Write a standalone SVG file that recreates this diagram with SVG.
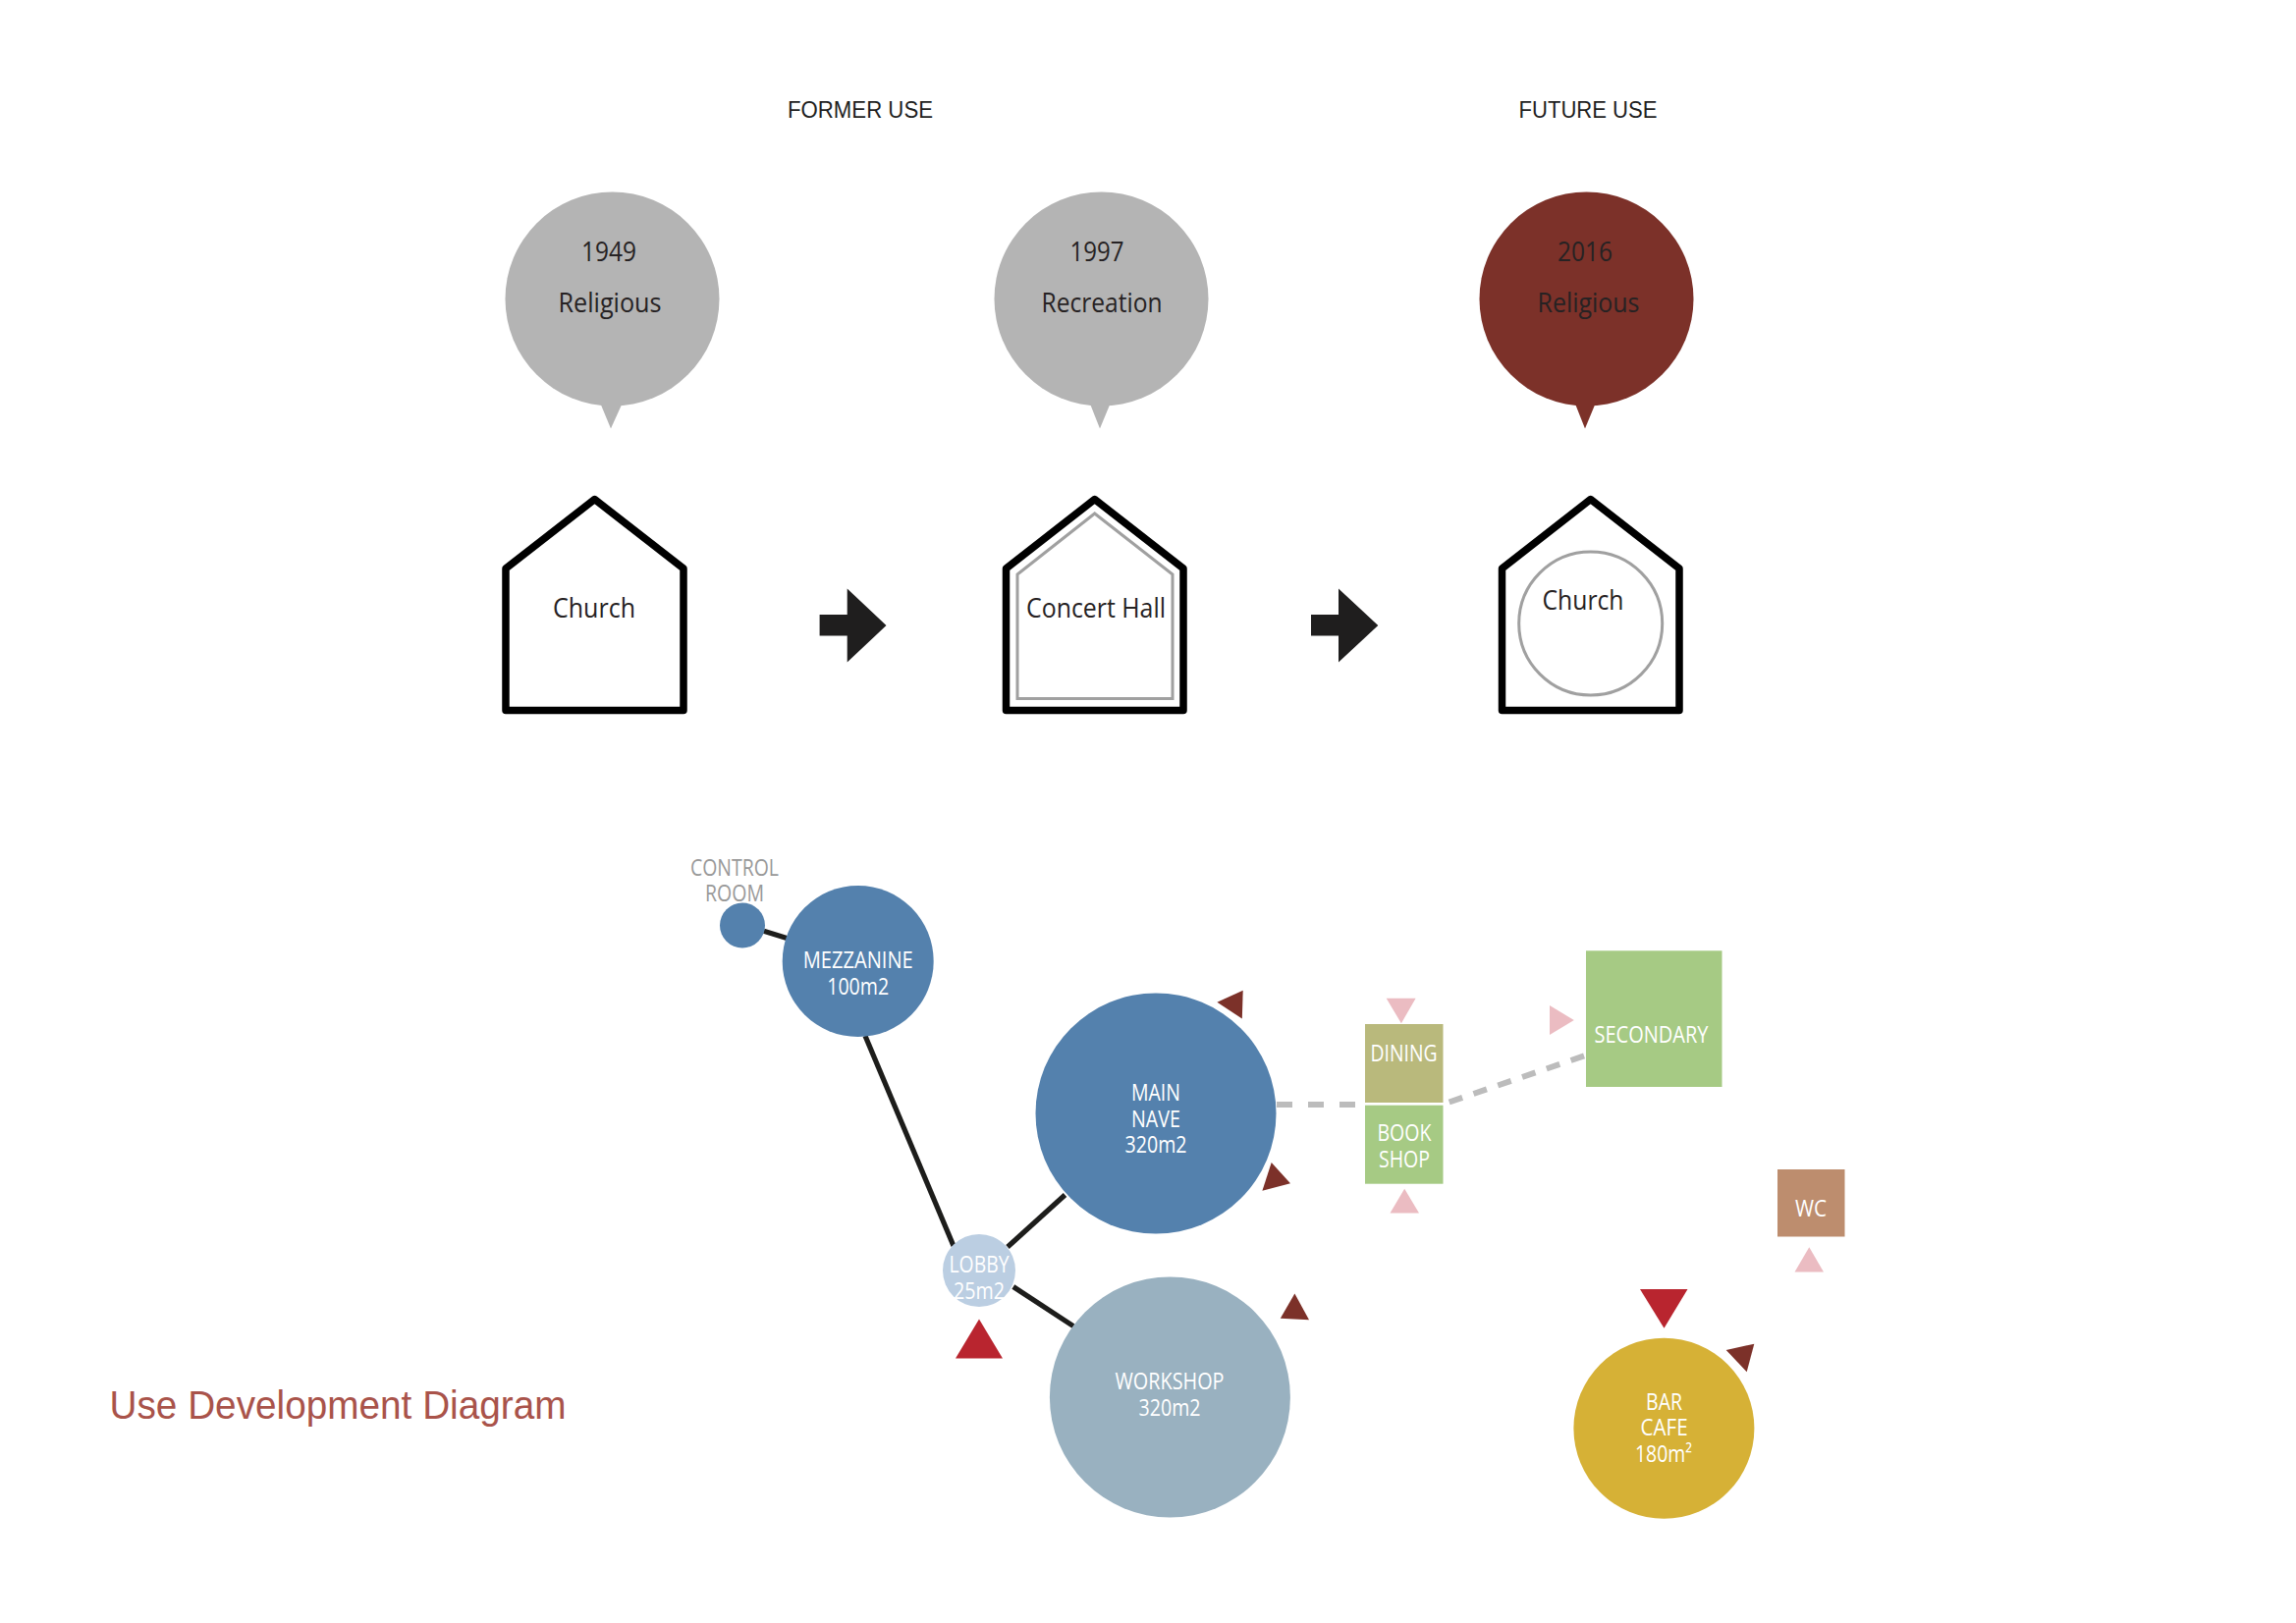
<svg xmlns="http://www.w3.org/2000/svg" width="2338" height="1653" viewBox="0 0 2338 1653">
<defs><style>
.h{font-family:"Liberation Sans",Arial,sans-serif;font-size:23px;fill:#1f1f1f;text-anchor:middle}
.t{font-family:"Open Sans","Noto Sans",sans-serif;font-size:28px;fill:#262223;text-anchor:middle}
.w{font-family:"Open Sans","Noto Sans",sans-serif;font-size:23px;fill:#fff;text-anchor:middle}
.g{fill:#999}
.house{fill:#fff;stroke:#000;stroke-width:7.5;stroke-linejoin:round}
.inner{fill:none;stroke:#a0a0a0;stroke-width:3}
.line{stroke:#1d1d1b;stroke-width:5.2;fill:none}
.dash{stroke:#bcbcbc;stroke-width:6;fill:none}
.blue{fill:#5481ad}.bub{fill:#b4b4b4}.brown{fill:#7c3129}.pink{fill:#ebbcc2}.red{fill:#b9252f}.green{fill:#a6ca84}.arrow{fill:#1f1e1e}
</style></defs>
<rect width="2338" height="1653" fill="#fff"/>
<text class="h" x="876" y="120" textLength="148" lengthAdjust="spacingAndGlyphs">FORMER USE</text>
<text class="h" x="1617" y="120" textLength="141" lengthAdjust="spacingAndGlyphs">FUTURE USE</text>

<g id="bubble-1949"><circle class="bub" cx="623.500" cy="304.500" r="109"/><path class="bub" d="M611 410L622 436.500L634 410Z"/>
<text class="t" x="620" y="265.500" textLength="56" lengthAdjust="spacingAndGlyphs">1949</text><text class="t" x="621" y="317.500" textLength="105" lengthAdjust="spacingAndGlyphs">Religious</text></g>
<g id="bubble-1997"><circle class="bub" cx="1121.500" cy="304.500" r="109"/><path class="bub" d="M1109.500 410L1120 436.500L1131 410Z"/>
<text class="t" x="1117" y="265.500" textLength="55" lengthAdjust="spacingAndGlyphs">1997</text><text class="t" x="1122" y="317.500" textLength="123" lengthAdjust="spacingAndGlyphs">Recreation</text></g>
<g id="bubble-2016"><circle class="brown" cx="1615.500" cy="304.500" r="109"/><path class="brown" d="M1603.500 410L1614 436.500L1625 410Z"/>
<text class="t" x="1614" y="265.500" textLength="56" lengthAdjust="spacingAndGlyphs">2016</text><text class="t" x="1617.500" y="317.500" textLength="104" lengthAdjust="spacingAndGlyphs">Religious</text></g>

<g id="house-church"><path class="house" d="M515 579L605.500 508.500L696 579V723.500H515Z"/>
<text class="t" x="605" y="628.500" textLength="84" lengthAdjust="spacingAndGlyphs">Church</text></g>
<g id="house-concert"><path class="house" d="M1024.500 579L1114.700 508.500L1205 579V723.500H1024.500Z"/><path class="inner" d="M1036 585L1114.700 523L1194 585V711.500H1036Z"/>
<text class="t" x="1116" y="628.500" textLength="142" lengthAdjust="spacingAndGlyphs">Concert Hall</text></g>
<g id="house-future"><path class="house" d="M1529.500 579L1619.700 508.500L1710 579V723.500H1529.500Z"/><circle class="inner" cx="1619.700" cy="635" r="73"/>
<text class="t" x="1612" y="621" textLength="83" lengthAdjust="spacingAndGlyphs">Church</text></g>

<path id="arrow-1" class="arrow" d="M834.600 626H862.700V599.500L902.500 637L862.700 674.500V647.500H834.600Z"/>
<path id="arrow-2" class="arrow" d="M1335 626H1363V599.500L1403.300 637L1363 674.500V647.500H1335Z"/>

<g id="connectors">
<path class="line" d="M777.800 948.300L802 955.700"/>
<path class="line" d="M881 1055L971 1269"/>
<path class="line" d="M1026 1270L1084.500 1217"/>
<path class="line" d="M1031.800 1310.500L1093 1350.600"/>
<path class="dash" d="M1300 1125H1380" stroke-dasharray="16 16"/>
<path class="dash" d="M1475.700 1122.500L1613.700 1075.200" stroke-dasharray="14.200 12"/>
</g>

<g id="control-room"><circle class="blue" cx="756" cy="942.500" r="23"/>
<text class="w g" x="748" y="891.500" textLength="90" lengthAdjust="spacingAndGlyphs">CONTROL</text><text class="w g" x="748" y="918" textLength="60" lengthAdjust="spacingAndGlyphs">ROOM</text></g>
<g id="mezzanine"><circle class="blue" cx="873.700" cy="979" r="77"/>
<text class="w" x="873.700" y="986" textLength="112" lengthAdjust="spacingAndGlyphs">MEZZANINE</text><text class="w" x="873.700" y="1013" textLength="63" lengthAdjust="spacingAndGlyphs">100m2</text></g>
<g id="main-nave"><circle class="blue" cx="1177" cy="1134" r="122.500"/>
<text class="w" x="1177" y="1120.500" textLength="50" lengthAdjust="spacingAndGlyphs">MAIN</text><text class="w" x="1177" y="1147.500" textLength="50" lengthAdjust="spacingAndGlyphs">NAVE</text><text class="w" x="1177" y="1174" textLength="63" lengthAdjust="spacingAndGlyphs">320m2</text></g>
<g id="lobby"><circle cx="997" cy="1294" r="37" fill="#bbcee2"/>
<text class="w" x="997" y="1295.500" textLength="61" lengthAdjust="spacingAndGlyphs">LOBBY</text><text class="w" x="997" y="1323" textLength="52" lengthAdjust="spacingAndGlyphs">25m2</text></g>
<g id="workshop"><circle cx="1191.400" cy="1423" r="122.500" fill="#99b1c0"/>
<text class="w" x="1191" y="1414.500" textLength="111" lengthAdjust="spacingAndGlyphs">WORKSHOP</text><text class="w" x="1191" y="1442" textLength="63" lengthAdjust="spacingAndGlyphs">320m2</text></g>
<g id="dining"><rect x="1390" y="1043" width="79.500" height="80" fill="#b9b97c"/>
<text class="w" x="1429.500" y="1081" textLength="68" lengthAdjust="spacingAndGlyphs">DINING</text></g>
<g id="book-shop"><rect class="green" x="1390" y="1125.700" width="79.500" height="80"/>
<text class="w" x="1430" y="1162" textLength="55" lengthAdjust="spacingAndGlyphs">BOOK</text><text class="w" x="1430" y="1189" textLength="52" lengthAdjust="spacingAndGlyphs">SHOP</text></g>
<g id="secondary"><rect class="green" x="1615" y="968.300" width="138.500" height="138.700"/>
<text class="w" x="1681.500" y="1062" textLength="116" lengthAdjust="spacingAndGlyphs">SECONDARY</text></g>
<g id="wc"><rect x="1810" y="1191" width="68.500" height="68.500" fill="#bd8d6e"/>
<text class="w" x="1844" y="1238.500" textLength="32" lengthAdjust="spacingAndGlyphs">WC</text></g>
<g id="bar-cafe"><circle cx="1694.400" cy="1454.800" r="92" fill="#d6b136"/>
<text class="w" x="1694.600" y="1435.500" textLength="37" lengthAdjust="spacingAndGlyphs">BAR</text><text class="w" x="1694.600" y="1462" textLength="48" lengthAdjust="spacingAndGlyphs">CAFE</text><text class="w" x="1694" y="1489" textLength="58" lengthAdjust="spacingAndGlyphs">180m²</text></g>

<g id="markers">
<path class="brown" d="M1239.400 1020.700L1265.700 1008.700L1264.800 1037.400Z"/>
<path class="brown" d="M1294.700 1184L1314 1205.300L1285.400 1212.700Z"/>
<path class="brown" d="M1318.400 1317.500L1333 1344.300L1303.800 1342.700Z"/>
<path class="brown" d="M1757.700 1375L1786.300 1368.700L1778.700 1397.300Z"/>
<path class="red" d="M997 1343.500L1021 1383.500H973Z"/>
<path class="red" d="M1670 1313H1718.500L1694.500 1352.800Z"/>
<path class="pink" d="M1411.700 1016.800H1441.600L1426.900 1042.200Z"/>
<path class="pink" d="M1430.200 1210.700L1445 1235.400H1415.500Z"/>
<path class="pink" d="M1578 1024L1602.800 1039L1578 1054Z"/>
<path class="pink" d="M1842.300 1270.300L1857 1295.400H1827.500Z"/>
</g>
<text x="111.500" y="1445" font-family="'Liberation Sans',Arial,sans-serif" font-size="41" fill="#a9534a" textLength="465" lengthAdjust="spacingAndGlyphs">Use Development Diagram</text>
</svg>
